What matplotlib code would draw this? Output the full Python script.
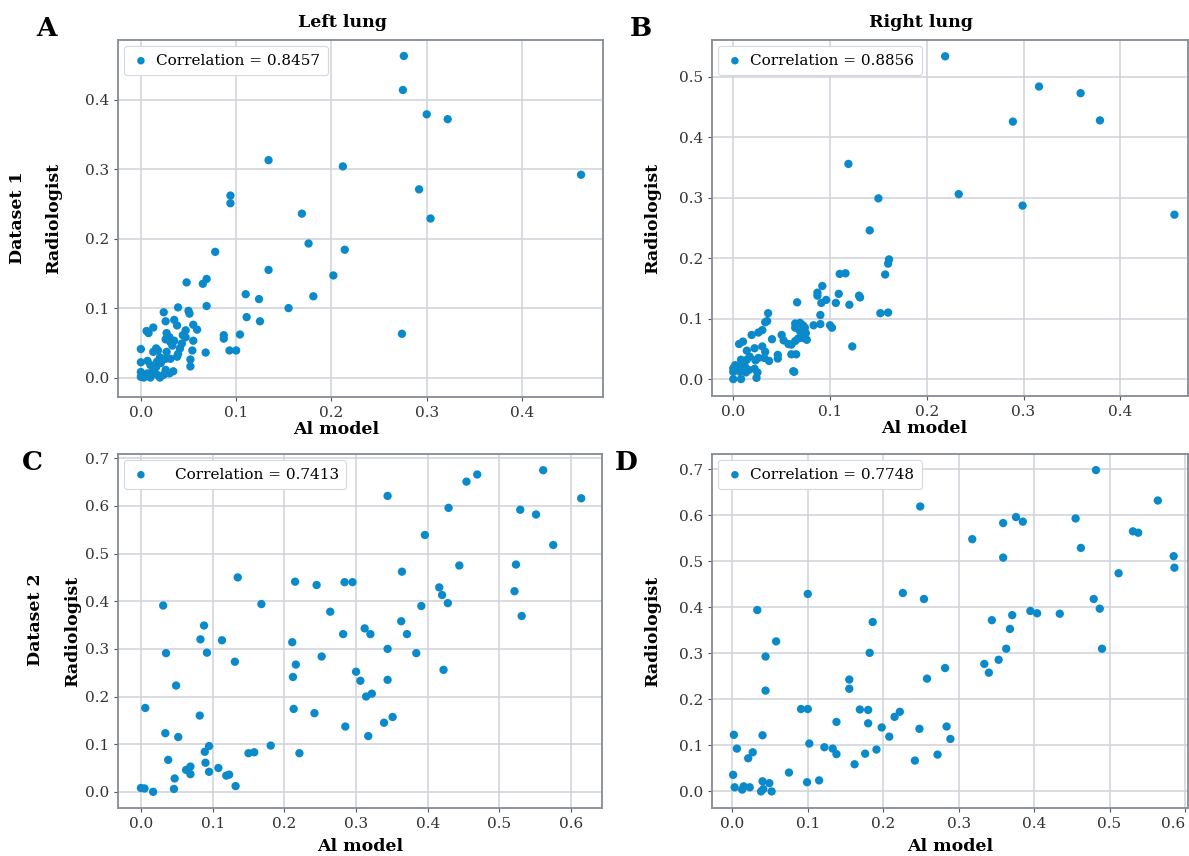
import numpy as np
import matplotlib.pyplot as plt

plt.rcParams['font.family'] = ['DejaVu Serif']

# Left lung, dataset 1 (AI model, radiologist)
left1_ai = [0.276, 0.275, 0.300, 0.322, 0.462, 0.292, 0.304, 0.274,
            0.134, 0.212, 0.094, 0.094, 0.169, 0.176, 0.214, 0.078,
            0.134, 0.202, 0.048, 0.069, 0.065, 0.110, 0.124, 0.181,
            0.155, 0.069, 0.039, 0.024, 0.050, 0.051, 0.111, 0.125,
            0.026, 0.035, 0.038, 0.055, 0.059, 0.047, 0.013, 0.006,
            0.008, 0.027, 0.030, 0.044, 0.047, 0.087, 0.087, 0.104,
            0.026, 0.031, 0.035, 0.055, 0.043, 0.033, 0.041, 0.054,
            0.093, 0.100, 0.000, 0.016, 0.013, 0.018, 0.027, 0.039,
            0.068, 0.031, 0.038, 0.052, 0.052, 0.034, 0.000, 0.007,
            0.010, 0.017, 0.021, 0.016, 0.026, 0.020, 0.026,
            0.000, 0.007, 0.012, 0.003, 0.000, 0.010, 0.020, 0.017,
            0.024, 0.030]
left1_rad = [0.463, 0.414, 0.379, 0.372, 0.292, 0.271, 0.229, 0.063,
             0.313, 0.304, 0.262, 0.251, 0.236, 0.193, 0.184, 0.181,
             0.155, 0.147, 0.137, 0.142, 0.135, 0.120, 0.113, 0.117,
             0.100, 0.103, 0.101, 0.094, 0.096, 0.092, 0.087, 0.081,
             0.081, 0.083, 0.075, 0.076, 0.069, 0.068, 0.072, 0.067,
             0.064, 0.064, 0.058, 0.061, 0.058, 0.061, 0.056, 0.062,
             0.055, 0.051, 0.053, 0.053, 0.049, 0.046, 0.042, 0.039,
             0.039, 0.039, 0.041, 0.042, 0.037, 0.039, 0.037, 0.034,
             0.036, 0.027, 0.030, 0.026, 0.016, 0.009, 0.022, 0.024,
             0.018, 0.023, 0.021, 0.015, 0.011, 0.029, 0.027,
             0.008, 0.006, 0.008, 0.000, 0.001, 0.000, 0.000, 0.004,
             0.004, 0.006]

# Right lung, dataset 1
right1_ai = [0.219, 0.316, 0.359, 0.289, 0.379, 0.233, 0.299, 0.456,
             0.119, 0.150, 0.141, 0.161, 0.160, 0.157, 0.116, 0.110,
             0.092, 0.087, 0.087, 0.109, 0.130, 0.131, 0.096, 0.091,
             0.106, 0.120, 0.066, 0.152, 0.160, 0.036, 0.090, 0.102,
             0.123, 0.063, 0.035, 0.033, 0.064, 0.069, 0.072, 0.083,
             0.090, 0.100, 0.064, 0.069, 0.074, 0.075, 0.072, 0.067,
             0.064, 0.060, 0.057, 0.076, 0.026, 0.030, 0.019, 0.010,
             0.006, 0.040, 0.050, 0.052, 0.014, 0.022, 0.030, 0.033,
             0.017, 0.026, 0.032, 0.023, 0.014, 0.046, 0.046, 0.060,
             0.065, 0.008, 0.002, 0.007, 0.012, 0.000, 0.006, 0.011,
             0.016, 0.022, 0.025, 0.000, 0.007, 0.013, 0.000, 0.008,
             0.024, 0.062, 0.037]
right1_rad = [0.534, 0.484, 0.473, 0.426, 0.428, 0.306, 0.287, 0.272,
              0.356, 0.299, 0.246, 0.198, 0.191, 0.173, 0.175, 0.174,
              0.154, 0.143, 0.138, 0.141, 0.138, 0.135, 0.131, 0.126,
              0.126, 0.123, 0.127, 0.109, 0.110, 0.109, 0.106, 0.085,
              0.054, 0.012, 0.096, 0.094, 0.092, 0.093, 0.089, 0.089,
              0.091, 0.089, 0.085, 0.079, 0.085, 0.076, 0.068, 0.067,
              0.063, 0.057, 0.058, 0.065, 0.077, 0.081, 0.073, 0.062,
              0.058, 0.066, 0.073, 0.064, 0.047, 0.051, 0.054, 0.045,
              0.037, 0.035, 0.035, 0.031, 0.032, 0.040, 0.034, 0.041,
              0.041, 0.032, 0.023, 0.023, 0.021, 0.018, 0.017, 0.017,
              0.015, 0.017, 0.011, 0.012, 0.012, 0.011, 0.000, 0.000,
              0.002, 0.013, 0.030]

# Left lung, dataset 2
left2_ai = [0.000, 0.005, 0.017, 0.006, 0.031, 0.035, 0.049, 0.034,
            0.052, 0.038, 0.047, 0.046, 0.063, 0.069, 0.069, 0.082,
            0.083, 0.088, 0.092, 0.089, 0.095, 0.090, 0.095, 0.108,
            0.113, 0.119, 0.123, 0.132, 0.131, 0.135, 0.150, 0.158,
            0.168, 0.181, 0.211, 0.212, 0.216, 0.213, 0.215, 0.221,
            0.242, 0.245, 0.252, 0.264, 0.282, 0.284, 0.295, 0.285,
            0.300, 0.306, 0.344, 0.364, 0.396, 0.429, 0.454, 0.469,
            0.444, 0.416, 0.420, 0.428, 0.391, 0.363, 0.371, 0.312,
            0.320, 0.344, 0.384, 0.422, 0.344, 0.314, 0.322, 0.351,
            0.339, 0.317, 0.561, 0.614, 0.529, 0.551, 0.575, 0.523,
            0.521, 0.531]
left2_rad = [0.008, 0.007, 0.000, 0.176, 0.391, 0.291, 0.223, 0.123,
             0.115, 0.067, 0.028, 0.006, 0.046, 0.053, 0.037, 0.160,
             0.320, 0.349, 0.292, 0.084, 0.096, 0.061, 0.042, 0.050,
             0.318, 0.034, 0.036, 0.012, 0.273, 0.450, 0.081, 0.083,
             0.394, 0.097, 0.314, 0.241, 0.267, 0.174, 0.441, 0.081,
             0.165, 0.434, 0.284, 0.378, 0.331, 0.440, 0.440, 0.137,
             0.252, 0.233, 0.621, 0.462, 0.539, 0.596, 0.651, 0.666,
             0.475, 0.429, 0.413, 0.396, 0.390, 0.358, 0.331, 0.343,
             0.331, 0.300, 0.291, 0.256, 0.235, 0.200, 0.206, 0.157,
             0.145, 0.117, 0.675, 0.616, 0.592, 0.582, 0.518, 0.477,
             0.421, 0.369]

# Right lung, dataset 2
right2_ai = [0.002, 0.006, 0.001, 0.003, 0.013, 0.015, 0.023, 0.021,
             0.027, 0.033, 0.044, 0.044, 0.040, 0.040, 0.038, 0.041,
             0.049, 0.052, 0.058, 0.075, 0.091, 0.100, 0.100, 0.102,
             0.099, 0.115, 0.122, 0.133, 0.138, 0.138, 0.155, 0.155,
             0.162, 0.169, 0.180, 0.180, 0.176, 0.186, 0.182, 0.191,
             0.198, 0.208, 0.215, 0.222, 0.226, 0.249, 0.254, 0.258,
             0.248, 0.242, 0.272, 0.282, 0.284, 0.289, 0.318, 0.359,
             0.359, 0.376, 0.385, 0.344, 0.371, 0.368, 0.363, 0.395,
             0.404, 0.434, 0.334, 0.340, 0.353, 0.455, 0.462, 0.482,
             0.479, 0.487, 0.490, 0.512, 0.531, 0.538, 0.564, 0.585,
             0.586]
right2_rad = [0.123, 0.093, 0.036, 0.009, 0.004, 0.011, 0.009, 0.072,
              0.085, 0.394, 0.293, 0.219, 0.122, 0.022, 0.000, 0.005,
              0.018, 0.000, 0.326, 0.041, 0.179, 0.179, 0.429, 0.104,
              0.020, 0.024, 0.096, 0.093, 0.081, 0.151, 0.243, 0.223,
              0.059, 0.178, 0.177, 0.148, 0.082, 0.368, 0.301, 0.091,
              0.139, 0.119, 0.162, 0.173, 0.431, 0.619, 0.418, 0.245,
              0.136, 0.067, 0.080, 0.268, 0.141, 0.114, 0.548, 0.583,
              0.508, 0.596, 0.586, 0.372, 0.383, 0.353, 0.310, 0.392,
              0.387, 0.386, 0.277, 0.258, 0.286, 0.593, 0.529, 0.698,
              0.418, 0.397, 0.310, 0.474, 0.565, 0.562, 0.632, 0.511,
              0.486]

correlations = ['0.8457', '0.8856', '0.7413', '0.7748']
panel_letters = ['A', 'B', 'C', 'D']
titles = ['Left lung', 'Right lung']
row_labels = ['Dataset 1', 'Dataset 2']

dot_color = '#0a8acb'
grid_color = '#cfd2da'
spine_color = '#858a94'

W, H = 1189, 856
fig = plt.figure(figsize=(W / 100, H / 100), dpi=100)


def box(l, t, r, b):
    return [l / W, 1 - b / H, (r - l) / W, (b - t) / H]


axA = fig.add_axes(box(118, 40, 603, 397))
axB = fig.add_axes(box(712, 40, 1188, 396))
axC = fig.add_axes(box(118, 454, 602, 808))
axD = fig.add_axes(box(712, 454, 1188, 808))
axes = [axA, axB, axC, axD]

data = [(left1_ai, left1_rad), (right1_ai, right1_rad),
        (left2_ai, left2_rad), (right2_ai, right2_rad)]
xlims = [(-0.024, 0.485), (-0.022, 0.470), (-0.032, 0.643), (-0.027, 0.604)]
ylims = [(-0.028, 0.486), (-0.028, 0.561), (-0.034, 0.709), (-0.036, 0.733)]
xticks = [np.arange(0, 0.45, 0.1), np.arange(0, 0.45, 0.1),
          np.arange(0, 0.65, 0.1), np.arange(0, 0.65, 0.1)]
yticks = [np.arange(0, 0.45, 0.1), np.arange(0, 0.55, 0.1),
          np.arange(0, 0.75, 0.1), np.arange(0, 0.75, 0.1)]
text_pads = [0.4, 0.4, 1.6, 0.4]
xlabel_x = [0.45, 0.445, 0.5, 0.5]
xlabel_y = [-0.067, -0.067, -0.085, -0.085]
ylabel_x = [-0.115, -0.107, -0.076, -0.107]
title_x = [0.462, 0.439]

for i, ax in enumerate(axes):
    x, y = data[i]
    ax.scatter(x, y, s=36, color=dot_color, edgecolors='none', zorder=3,
               label='Correlation = ' + correlations[i])
    ax.set_xlim(*xlims[i])
    ax.set_ylim(*ylims[i])
    ax.set_xticks(xticks[i])
    ax.set_yticks(yticks[i])
    ax.set_xticklabels([f'{v:.1f}' for v in xticks[i]])
    ax.set_yticklabels([f'{v:.1f}' for v in yticks[i]])
    ax.grid(True, color=grid_color, linewidth=1.1, zorder=0)
    ax.set_axisbelow(True)
    for sp in ax.spines.values():
        sp.set_color(spine_color)
        sp.set_linewidth(1.3)
    ax.tick_params(labelsize=11, colors='#333333', length=3, width=0.8,
                   color='#555555')
    ax.set_xlabel('Al model', fontsize=12.5, fontweight='bold', va='top')
    ax.xaxis.set_label_coords(xlabel_x[i], xlabel_y[i])
    ax.set_ylabel('Radiologist', fontsize=12.5, fontweight='bold')
    ax.yaxis.set_label_coords(ylabel_x[i], 0.5)
    leg = ax.legend(loc='upper left', fontsize=11, handletextpad=text_pads[i],
                    borderpad=0.5, framealpha=1, edgecolor='#d6d8de',
                    handlelength=1.2, borderaxespad=0.4, markerscale=0.9)
    leg.get_frame().set_linewidth(0.8)

# last x tick label of D sits at the figure edge
axD.get_xticklabels()[-1].set_horizontalalignment('right')

letter_px = [(47, 28), (641, 28), (32, 463), (626, 463)]
for (px, py), letter in zip(letter_px, panel_letters):
    fig.text(px / W, 1 - py / H, letter, fontsize=19, fontweight='bold',
             ha='center', va='center')

for ax, t, xp in zip([axA, axB], titles, title_x):
    ax.text(xp, 1.025, t, transform=ax.transAxes, ha='center', va='bottom',
            fontsize=12.5, fontweight='bold')

fig.text(18 / W, 1 - 218 / H, row_labels[0], rotation=90, fontsize=12.5,
         fontweight='bold', ha='center', va='center')
fig.text(35 / W, 1 - 620 / H, row_labels[1], rotation=90, fontsize=12.5,
         fontweight='bold', ha='center', va='center')

fig.savefig('out.png', dpi=100)
